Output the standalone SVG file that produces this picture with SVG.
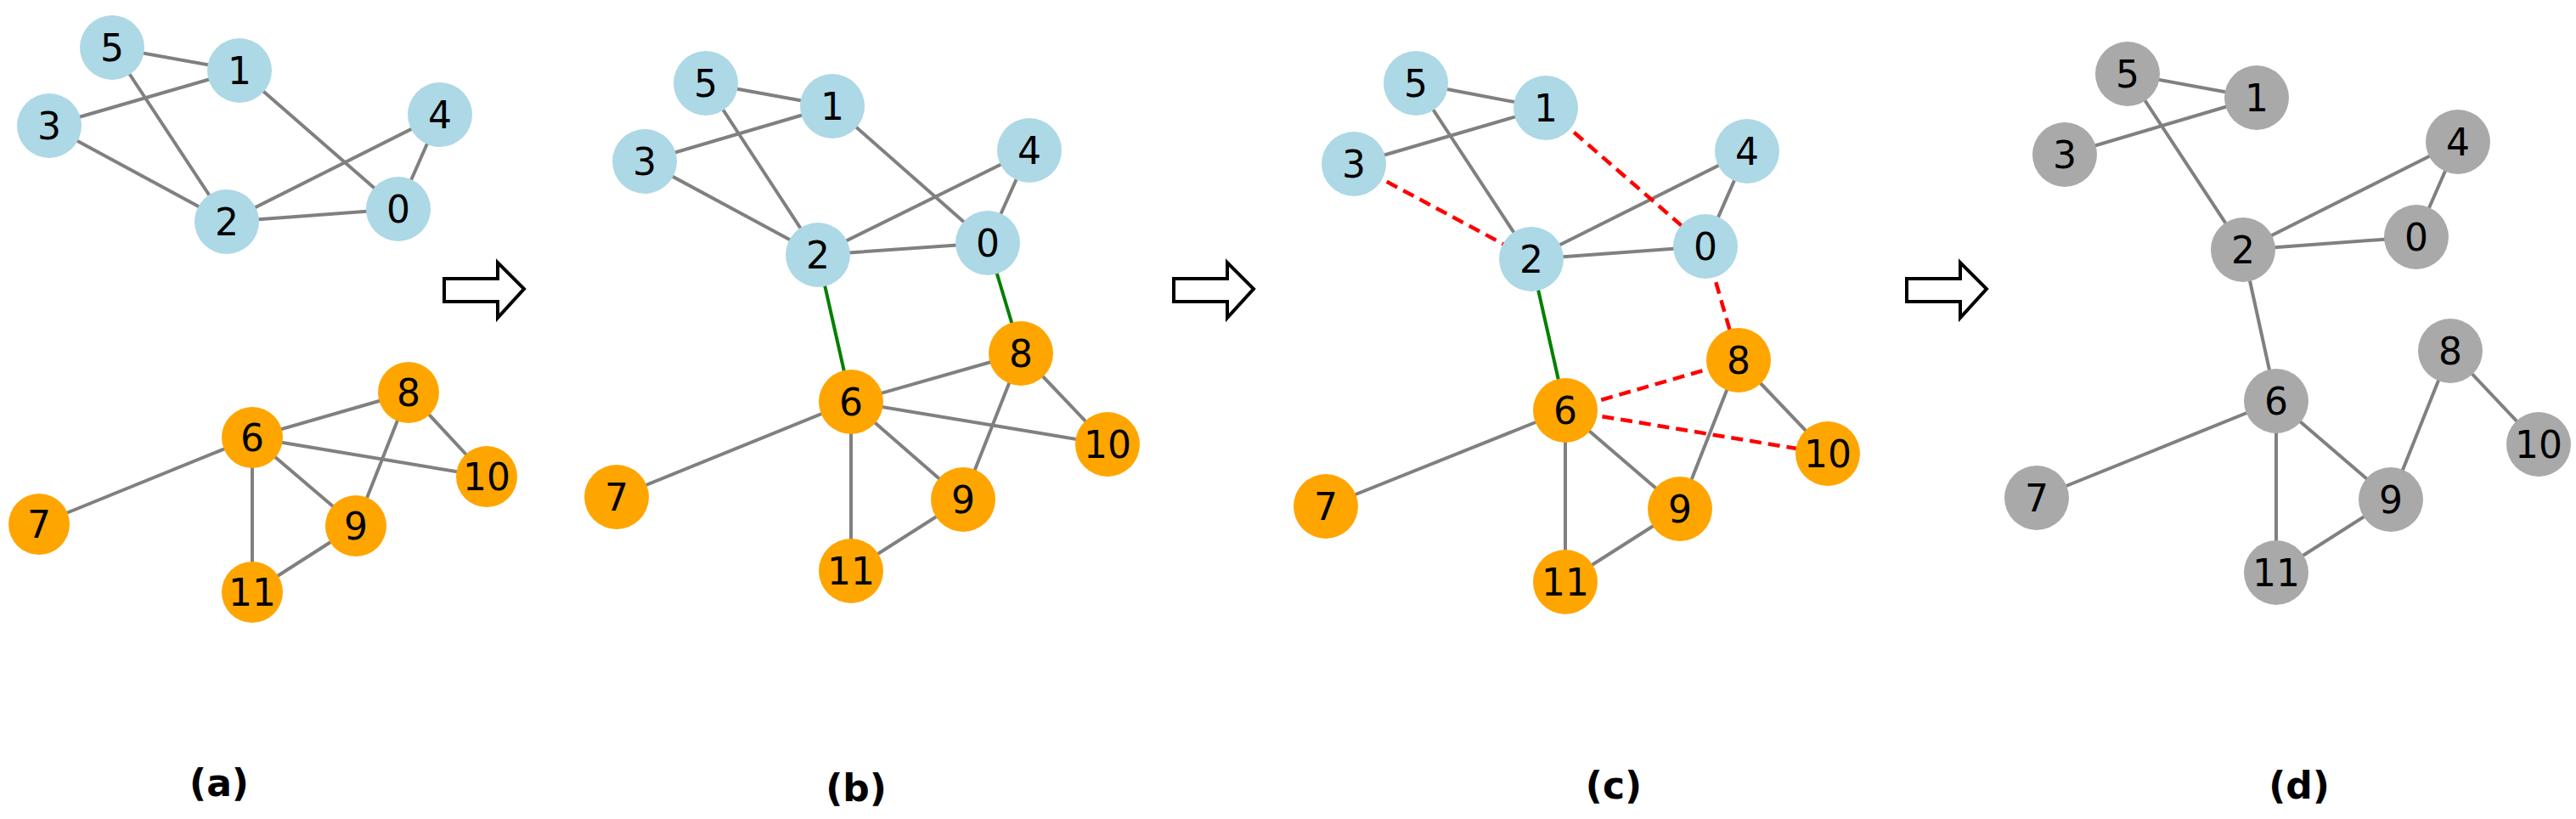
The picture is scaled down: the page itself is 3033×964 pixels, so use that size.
<svg xmlns="http://www.w3.org/2000/svg" width="3033" height="964" viewBox="0 0 3033 964">
<style>
.e{stroke:#808080;stroke-width:4;fill:none}
.g{stroke:#008000;stroke-width:4;fill:none}
.r{stroke:#ff0000;stroke-width:4.5;stroke-dasharray:14,8;fill:none}
.b{fill:#add8e6}.o{fill:#ffa500}.y{fill:#a9a9a9}
text{font-family:"DejaVu Sans",sans-serif;font-size:44px;fill:#000;text-anchor:middle;dominant-baseline:central}
.cap{font-size:44px;font-weight:bold}
.ar{fill:#fff;stroke:#000;stroke-width:4}
</style>
<defs><path id="arr" d="M0,19 H63 V0 L94,31 L63,65 V46 H0 Z"/></defs>
<g id="connectors">
<path class="e" d="M132,56L282,83M132,56L267,261M282,83L58,148M282,83L469,246M58,148L267,261M267,261L518,135M267,261L469,246M518,135L469,246M297,515L481,462M297,515L573,561M297,515L46,617M297,515L419,619M297,515L297,697M481,462L419,619M481,462L573,561M419,619L297,697"/>
<path class="e" d="M831,98L980,125M831,98L963,300M980,125L759,190M980,125L1163,286M759,190L963,300M963,300L1212,177M963,300L1163,286M1212,177L1163,286M1002,473L1202,416M1002,473L1304,523M1002,473L726,585M1002,473L1134,588M1002,473L1002,672M1202,416L1134,588M1202,416L1304,523M1134,588L1002,672"/>
<path class="g" d="M963,300L1002,473M1163,286L1202,416"/>
<path class="e" d="M1667,98L1820,127M1667,98L1803,305M1820,127L1594,193M1803,305L2057,178M1803,305L2008,290M2057,178L2008,290M1843,483L1561,596M1843,483L1978,599M1843,483L1843,685M2047,424L1978,599M2047,424L2152,534M1978,599L1843,685"/>
<path class="g" d="M1803,305L1843,483"/>
<path class="r" d="M1820,127L2008,290M1594,193L1803,305M2008,290L2047,424M1843,483L2047,424M1843,483L2152,534"/>
<path class="e" d="M2505,87L2657,115M2657,115L2431,182M2505,87L2641,294M2641,294L2894,167M2641,294L2845,279M2894,167L2845,279M2641,294L2680,472M2680,472L2398,586M2680,472L2815,588M2680,472L2680,674M2815,588L2680,674M2885,413L2815,588M2885,413L2989,523"/>
</g>
<g id="arrows">
<use href="#arr" x="523" y="309" class="ar"/>
<use href="#arr" x="1382" y="309" class="ar"/>
<use href="#arr" x="2245" y="309" class="ar"/>
</g>
<g id="panel-a">
<g id="a0"><circle class="b" cx="469" cy="246" r="38"/><text x="469" y="246">0</text></g>
<g id="a1"><circle class="b" cx="282" cy="83" r="38"/><text x="282" y="83">1</text></g>
<g id="a2"><circle class="b" cx="267" cy="261" r="38"/><text x="267" y="261">2</text></g>
<g id="a3"><circle class="b" cx="58" cy="148" r="38"/><text x="58" y="148">3</text></g>
<g id="a4"><circle class="b" cx="518" cy="135" r="38"/><text x="518" y="135">4</text></g>
<g id="a5"><circle class="b" cx="132" cy="56" r="38"/><text x="132" y="56">5</text></g>
<g id="a6"><circle class="o" cx="297" cy="515" r="36"/><text x="297" y="515">6</text></g>
<g id="a7"><circle class="o" cx="46" cy="617" r="36"/><text x="46" y="617">7</text></g>
<g id="a8"><circle class="o" cx="481" cy="462" r="36"/><text x="481" y="462">8</text></g>
<g id="a9"><circle class="o" cx="419" cy="619" r="36"/><text x="419" y="619">9</text></g>
<g id="a10"><circle class="o" cx="573" cy="561" r="36"/><text x="573" y="561">10</text></g>
<g id="a11"><circle class="o" cx="297" cy="697" r="36"/><text x="297" y="697">11</text></g>
<text class="cap" x="258" y="921">(a)</text>
</g>
<g id="panel-b">
<g id="b0"><circle class="b" cx="1163" cy="286" r="38"/><text x="1163" y="286">0</text></g>
<g id="b1"><circle class="b" cx="980" cy="125" r="38"/><text x="980" y="125">1</text></g>
<g id="b2"><circle class="b" cx="963" cy="300" r="38"/><text x="963" y="300">2</text></g>
<g id="b3"><circle class="b" cx="759" cy="190" r="38"/><text x="759" y="190">3</text></g>
<g id="b4"><circle class="b" cx="1212" cy="177" r="38"/><text x="1212" y="177">4</text></g>
<g id="b5"><circle class="b" cx="831" cy="98" r="38"/><text x="831" y="98">5</text></g>
<g id="b6"><circle class="o" cx="1002" cy="473" r="38"/><text x="1002" y="473">6</text></g>
<g id="b7"><circle class="o" cx="726" cy="585" r="38"/><text x="726" y="585">7</text></g>
<g id="b8"><circle class="o" cx="1202" cy="416" r="38"/><text x="1202" y="416">8</text></g>
<g id="b9"><circle class="o" cx="1134" cy="588" r="38"/><text x="1134" y="588">9</text></g>
<g id="b10"><circle class="o" cx="1304" cy="523" r="38"/><text x="1304" y="523">10</text></g>
<g id="b11"><circle class="o" cx="1002" cy="672" r="38"/><text x="1002" y="672">11</text></g>
<text class="cap" x="1008" y="927">(b)</text>
</g>
<g id="panel-c">
<g id="c0"><circle class="b" cx="2008" cy="290" r="38"/><text x="2008" y="290">0</text></g>
<g id="c1"><circle class="b" cx="1820" cy="127" r="38"/><text x="1820" y="127">1</text></g>
<g id="c2"><circle class="b" cx="1803" cy="305" r="38"/><text x="1803" y="305">2</text></g>
<g id="c3"><circle class="b" cx="1594" cy="193" r="38"/><text x="1594" y="193">3</text></g>
<g id="c4"><circle class="b" cx="2057" cy="178" r="38"/><text x="2057" y="178">4</text></g>
<g id="c5"><circle class="b" cx="1667" cy="98" r="38"/><text x="1667" y="98">5</text></g>
<g id="c6"><circle class="o" cx="1843" cy="483" r="38"/><text x="1843" y="483">6</text></g>
<g id="c7"><circle class="o" cx="1561" cy="596" r="38"/><text x="1561" y="596">7</text></g>
<g id="c8"><circle class="o" cx="2047" cy="424" r="38"/><text x="2047" y="424">8</text></g>
<g id="c9"><circle class="o" cx="1978" cy="599" r="38"/><text x="1978" y="599">9</text></g>
<g id="c10"><circle class="o" cx="2152" cy="534" r="38"/><text x="2152" y="534">10</text></g>
<g id="c11"><circle class="o" cx="1843" cy="685" r="38"/><text x="1843" y="685">11</text></g>
<text class="cap" x="1900" y="924">(c)</text>
</g>
<g id="panel-d">
<g id="d0"><circle class="y" cx="2845" cy="279" r="38"/><text x="2845" y="279">0</text></g>
<g id="d1"><circle class="y" cx="2657" cy="115" r="38"/><text x="2657" y="115">1</text></g>
<g id="d2"><circle class="y" cx="2641" cy="294" r="38"/><text x="2641" y="294">2</text></g>
<g id="d3"><circle class="y" cx="2431" cy="182" r="38"/><text x="2431" y="182">3</text></g>
<g id="d4"><circle class="y" cx="2894" cy="167" r="38"/><text x="2894" y="167">4</text></g>
<g id="d5"><circle class="y" cx="2505" cy="87" r="38"/><text x="2505" y="87">5</text></g>
<g id="d6"><circle class="y" cx="2680" cy="472" r="38"/><text x="2680" y="472">6</text></g>
<g id="d7"><circle class="y" cx="2398" cy="586" r="38"/><text x="2398" y="586">7</text></g>
<g id="d8"><circle class="y" cx="2885" cy="413" r="38"/><text x="2885" y="413">8</text></g>
<g id="d9"><circle class="y" cx="2815" cy="588" r="38"/><text x="2815" y="588">9</text></g>
<g id="d10"><circle class="y" cx="2989" cy="523" r="38"/><text x="2989" y="523">10</text></g>
<g id="d11"><circle class="y" cx="2680" cy="674" r="38"/><text x="2680" y="674">11</text></g>
<text class="cap" x="2707" y="924">(d)</text>
</g>
</svg>
